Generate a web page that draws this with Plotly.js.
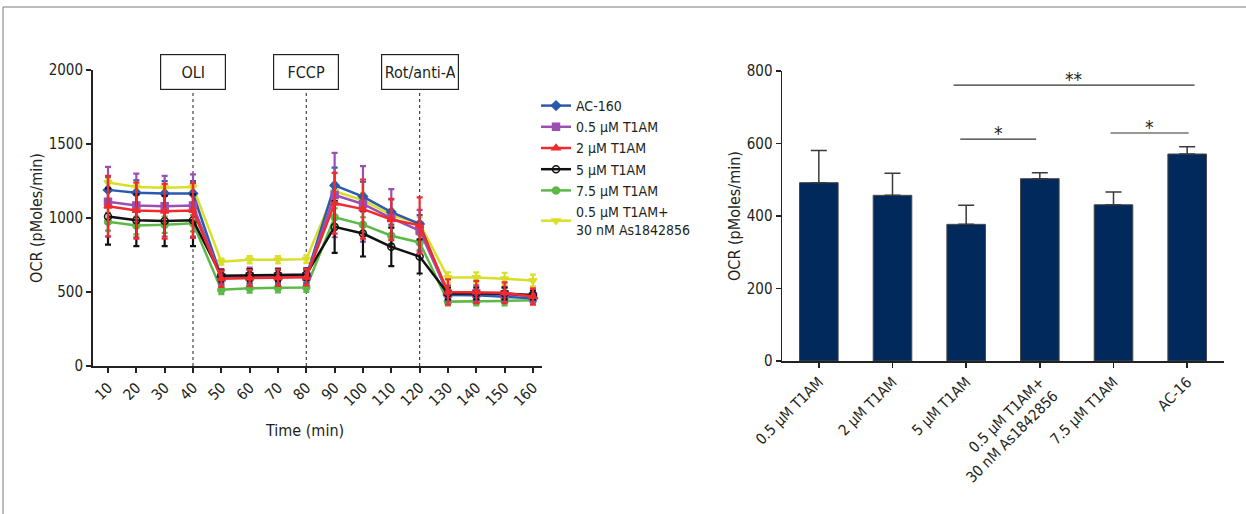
<!DOCTYPE html>
<html><head><meta charset="utf-8">
<script src="https://cdn.plot.ly/plotly-3.0.1.min.js"></script>
<style>html,body{margin:0;padding:0;background:#fff}#plot{width:1246px;height:514px}</style>
</head><body><div id="plot"></div>
<script>
// ---- Left panel: OCR time course ----
const time = [10,20,30,40,50,60,70,80,90,100,110,120,130,140,150,160];
const ac160      = [1190,1170,1165,1165,600,605,605,605,1220,1145,1040,960,480,478,470,458];
const ac160Err   = [90,85,85,85,45,45,45,45,120,100,85,60,30,30,30,25];
const t05        = [1110,1085,1080,1085,600,605,605,605,1155,1095,1000,915,490,490,485,470];
const t05Err     = [235,215,205,210,55,60,55,55,285,255,195,140,55,55,50,40];
const t2         = [1080,1050,1045,1050,590,595,597,600,1100,1060,990,950,500,500,495,470];
const t2Err      = [205,190,185,185,55,55,55,55,205,200,140,190,85,75,70,55];
const t5         = [1010,985,980,985,610,615,615,618,940,895,805,740,490,490,490,480];
const t5Err      = [190,175,170,175,40,40,40,40,175,155,130,115,40,40,40,30];
const t75        = [975,950,955,965,515,525,528,530,1005,955,880,835,435,435,440,445];
const t75Err     = [60,60,55,55,30,30,30,30,60,50,55,50,25,25,30,20];
const t05As      = [1240,1210,1205,1210,705,718,718,722,1180,1120,1020,965,598,598,590,578];
const t05AsErr   = [30,25,25,25,20,25,25,25,60,50,40,40,35,35,40,40];
const seriesNames = ['AC-160','0.5 μM T1AM','2 μM T1AM','5 μM T1AM','7.5 μM T1AM','0.5 μM T1AM+<br>30 nM As1842856'];
const injections = [40,80,120];
const injectionLabels = ['OLI','FCCP','Rot/anti-A'];
const timeTicks = [10,20,30,40,50,60,70,80,90,100,110,120,130,140,150,160];
const ocrTicks = [0,500,1000,1500,2000];

// ---- Right panel: bar chart ----
const barCats = ['0.5 μM T1AM','2 μM T1AM','5 μM T1AM','0.5 μM T1AM+<br>30 nM As1842856','7.5 μM T1AM','AC-16'];
const barVals = [492,457,377,503,431,571];
const barErr  = [89,61,53,16,35,20];
const barErrMinus = [0,0,0,0,0,0];
const barTicks = [0,200,400,600,800];

const FONT = '"DejaVu Sans Condensed","Liberation Sans Narrow","Open Sans",sans-serif';
const TXT = '#231f20';

function lineTrace(y, err, name, color, symbol, rank){
  return {x: time, y: y, name: name, type:'scatter', mode:'lines+markers',
    xaxis:'x', yaxis:'y', legendrank: rank,
    line:{color:color, width:2.5},
    marker:{color:color, symbol:symbol, size:7, line:{color:color, width:1.5}},
    error_y:{type:'data', array: err, color: color, thickness:2.2, width:3}};
}

const traces = [
  lineTrace(t05As, t05AsErr, seriesNames[5], '#d9df27', 'triangle-down', 6),
  lineTrace(t75, t75Err, seriesNames[4], '#5cb947', 'circle', 5),
  lineTrace(ac160, ac160Err, seriesNames[0], '#2a5aae', 'diamond', 1),
  lineTrace(t05, t05Err, seriesNames[1], '#9b4fb2', 'square', 2),
  lineTrace(t5, t5Err, seriesNames[3], '#111111', 'circle-open', 4),
  lineTrace(t2, t2Err, seriesNames[2], '#ef2b2e', 'triangle-up', 3),
  {x: barCats, y: barVals, type:'bar', xaxis:'x2', yaxis:'y2', showlegend:false,
   marker:{color:'#01295b', line:{color:'#4a4a4a', width:1}},
   error_y:{type:'data', symmetric:false, array: barErr, arrayminus: barErrMinus, color:'#3a3a3a', thickness:1.5, width:8}}
];

const shapes = [
  {type:'line', xref:'paper', yref:'paper', x0:3/1246, x1:1, y0:1-7/514, y1:1-7/514, line:{color:'#7a7a7a', width:1}},
  {type:'line', xref:'paper', yref:'paper', x0:3/1246, x1:3/1246, y0:0, y1:1-7/514, line:{color:'#7a7a7a', width:1}}
];
injections.forEach(t => shapes.push({type:'line', xref:'x', yref:'y', x0:t, x1:t, y0:0, y1:1870,
  line:{color:'#444', width:1.2, dash:'dot'}, layer:'below'}));
const sig = [
  {x0:1.83, x1:5.1, y:761, mark:'**'},
  {x0:1.92, x1:2.95, y:612, mark:'*'},
  {x0:3.96, x1:5.02, y:629, mark:'*'}
];
sig.forEach(s => shapes.push({type:'line', xref:'x2', yref:'y2', x0:s.x0, x1:s.x1, y0:s.y, y1:s.y, line:{color:'#333', width:1.2}}));

const annotations = injectionLabels.map((lab,i) => ({
  text: lab, xref:'x', yref:'y', x: injections[i], y: 1985, showarrow:false,
  font:{family:FONT, size:16, color:TXT}, bgcolor:'#fff', bordercolor:'#222', borderwidth:1.2,
  borderpad:3, width: (lab.length > 5 ? 70 : 58), height: 28, xanchor:'center', yanchor:'middle'
}));
sig.forEach(s => annotations.push({text:s.mark, xref:'x2', yref:'y2', x:(s.x0+s.x1)/2, y:s.y-18, yanchor:'bottom',
  showarrow:false, font:{family:FONT, size:19, color:TXT}}));
annotations.push({text:'Time (min)', xref:'paper', yref:'paper', x:304/1246, y:(514-430)/514, xanchor:'center', yanchor:'middle',
  showarrow:false, font:{family:FONT, size:16, color:TXT}});

const axisCommon = {showgrid:false, zeroline:false, showline:true, linecolor:'#222', linewidth:2,
  ticks:'outside', ticklen:5, tickwidth:2, tickcolor:'#222', tickfont:{family:FONT, size:15, color:TXT}};

const layout = {
  width:1246, height:514, margin:{l:0,r:0,t:0,b:0}, paper_bgcolor:'#fff', plot_bgcolor:'#fff',
  font:{family:FONT, color:TXT},
  xaxis: Object.assign({}, axisCommon, {domain:[93/1246, 542/1246], range:[4.7,163.2], tickvals: timeTicks,
    tickangle:-45, anchor:'y'}),
  yaxis: Object.assign({}, axisCommon, {domain:[(514-366)/514, (514-70)/514], range:[0,2000], tickvals: ocrTicks,
    anchor:'x', title:{text:'OCR (pMoles/min)', font:{family:FONT, size:16, color:TXT}, standoff:2}}),
  xaxis2: Object.assign({}, axisCommon, {domain:[782/1246, 1224/1246], range:[-0.5,5.5], type:'category',
    tickangle:-45, anchor:'y2', linewidth:1.5, tickwidth:1.5}),
  yaxis2: Object.assign({}, axisCommon, {domain:[(514-361)/514, (514-71)/514], range:[0,800], tickvals: barTicks,
    anchor:'x2', linewidth:1.5, tickwidth:1.5, title:{text:'OCR (pMoles/min)', font:{family:FONT, size:16, color:TXT}, standoff:2}}),
  bargap:0.476,
  showlegend:true,
  legend:{x:536/1246, y:(514-90)/514, xanchor:'left', yanchor:'top', bgcolor:'rgba(0,0,0,0)',
    font:{family:FONT, size:14, color:TXT}, tracegroupgap:0, itemwidth:30},
  shapes: shapes, annotations: annotations
};

Plotly.newPlot('plot', traces, layout, {displayModeBar:false, staticPlot:true});
</script></body></html>
